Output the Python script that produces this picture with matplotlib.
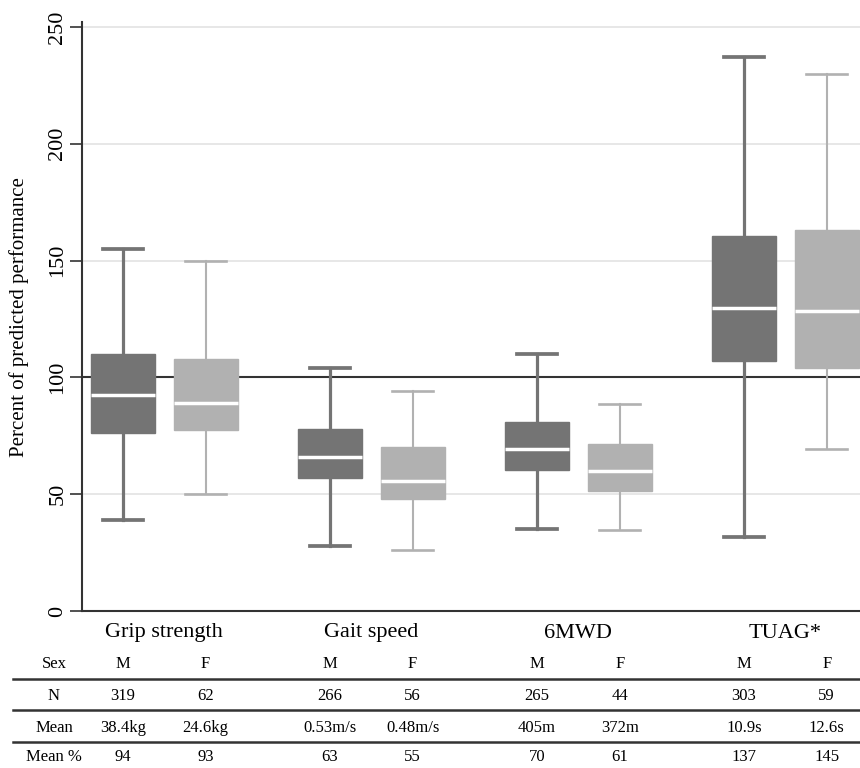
import numpy as np
import matplotlib
matplotlib.use("Agg")
import matplotlib.pyplot as plt
from matplotlib.lines import Line2D
from matplotlib.transforms import blended_transform_factory

plt.rcParams['font.family'] = ['Liberation Serif', 'DejaVu Serif']

# data (percent of predicted performance)
tests = ["Grip strength", "Gait speed", "6MWD", "TUAG*"]
sexes = ["M", "F"]
# per test: [M, F]
whislo = [[39, 50], [28, 26], [35, 34.5], [31.5, 69.5]]
q1 = [[76, 77.5], [57, 48], [60.5, 51.5], [107, 104]]
med = [[92.5, 89], [66, 55.5], [69.5, 60], [129.5, 128.5]]
q3 = [[110, 108], [78, 70], [81, 71.5], [160.5, 163]]
whishi = [[155, 150], [104, 94], [110, 88.5], [237, 230]]

n_vals = [["319", "62"], ["266", "56"], ["265", "44"], ["303", "59"]]
mean_vals = [["38.4kg", "24.6kg"], ["0.53m/s", "0.48m/s"], ["405m", "372m"], ["10.9s", "12.6s"]]
mean_pct = [["94", "93"], ["63", "55"], ["70", "61"], ["137", "145"]]
row_labels = ["Sex", "N", "Mean", "Mean %"]

colors = {"M": "#747474", "F": "#b1b1b1"}
whisker_lw = {"M": 2.3, "F": 1.5}
offset = 0.2

fig = plt.figure(figsize=(8.6, 7.68), dpi=100)
ax = fig.add_axes([82 / 860, 157 / 768, 778 / 860, 588.7 / 768])

for k, s in enumerate(sexes):
    stats = []
    for i in range(len(tests)):
        stats.append(dict(whislo=whislo[i][k], q1=q1[i][k], med=med[i][k],
                          q3=q3[i][k], whishi=whishi[i][k], fliers=[]))
    pos = np.arange(len(tests)) + (-offset if s == "M" else offset)
    c = colors[s]
    ax.bxp(stats, positions=pos, widths=0.31, capwidths=0.195,
           showfliers=False, patch_artist=True,
           boxprops=dict(facecolor=c, edgecolor=c, linewidth=1),
           medianprops=dict(color="white", linewidth=2.5),
           whiskerprops=dict(color=c, linewidth=whisker_lw[s]),
           capprops=dict(color=c, linewidth=whisker_lw[s] + 0.4),
           zorder=3)

for g in [50, 150, 200, 250]:
    ax.axhline(g, color="#e3e3e3", linewidth=1.2, zorder=1)
ax.axhline(100, color="#333333", linewidth=1.5, zorder=2)

ax.set_xlim(-0.397, 3.361)
ax.set_ylim(0, 252)
ax.set_yticks([0, 50, 100, 150, 200, 250])
ax.set_xticks([])
ax.tick_params(axis="y", direction="out", length=8.5, width=1.2, color="#333333",
               labelsize=16, pad=2)
for lab in ax.get_yticklabels():
    lab.set_rotation(90)
    lab.set_va("center")
ax.set_ylabel("Percent of predicted performance", fontsize=15, labelpad=14)
for side in ["top", "right"]:
    ax.spines[side].set_visible(False)
for side in ["left", "bottom"]:
    ax.spines[side].set_color("#333333")
    ax.spines[side].set_linewidth(1.5)

# table under the plot
tr = blended_transform_factory(ax.transData, fig.transFigure)
row_y = [1 - 664 / 768, 1 - 696 / 768, 1 - 728 / 768, 1 - 757 / 768]
for i, t in enumerate(tests):
    ax.text(i, 1 - 633 / 768, t, transform=tr, ha="center", va="center",
            fontsize=16, clip_on=False)
    for k, s in enumerate(sexes):
        x = i + (-offset if k == 0 else offset)
        cells = [s, n_vals[i][k], mean_vals[i][k], mean_pct[i][k]]
        for y, txt in zip(row_y, cells):
            ax.text(x, y, txt, transform=tr, ha="center", va="center",
                    fontsize=12, clip_on=False)

for y, txt in zip(row_y, row_labels):
    fig.text(54 / 860, y, txt, ha="center", va="center", fontsize=12)

for ly in [679, 710, 742]:
    fig.add_artist(Line2D([13 / 860, 1], [1 - ly / 768] * 2,
                          transform=fig.transFigure, color="#333333", linewidth=1.8))

fig.savefig("out.png", dpi=100)
